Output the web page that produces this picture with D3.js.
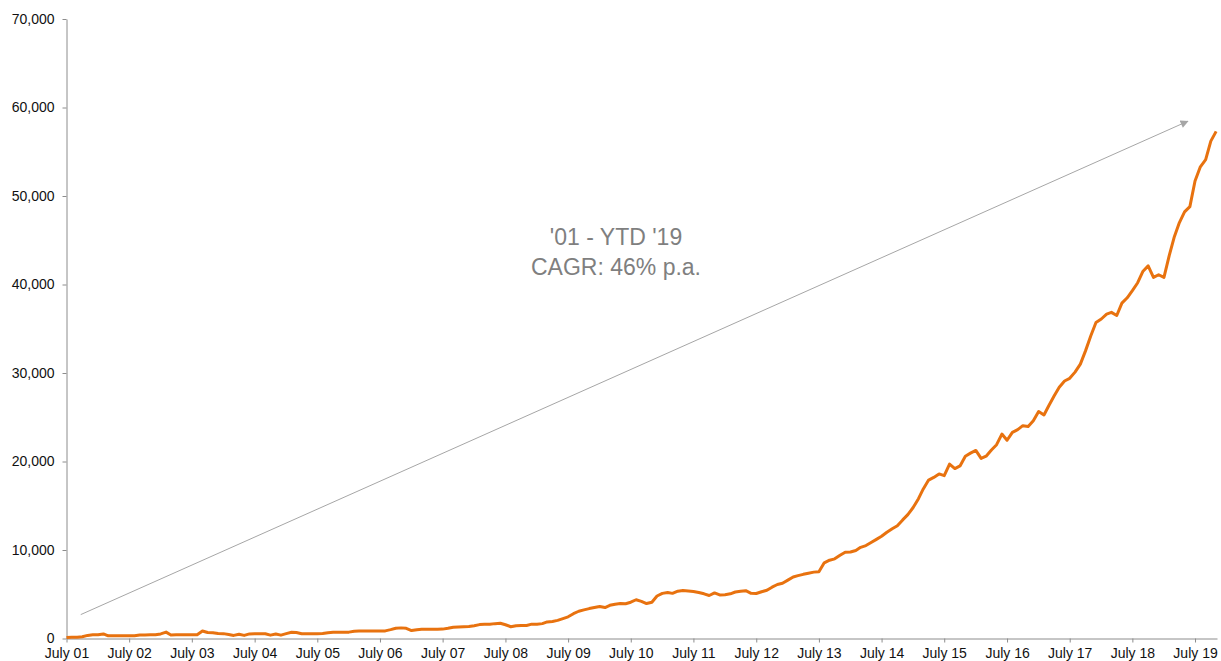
<!DOCTYPE html>
<html>
<head>
<meta charset="utf-8">
<script src="https://cdn.jsdelivr.net/npm/d3@7"></script>
<style>
  html, body { margin: 0; padding: 0; background: #fff; }
  svg { display: block; font-family: "Liberation Sans", Arial, Helvetica, sans-serif; }
</style>
</head>
<body>
<svg id="chart" width="1221" height="661"></svg>
<script>
// --- data: monthly values, July 2001 .. Nov 2019 ---
const startMonth = new Date(2001, 6, 1);
const values = [
  // Jul 01 - Jun 02
  100, 150, 150, 200, 350, 420, 420, 520, 300, 300, 300, 300,
  // Jul 02 - Jun 03
  300, 320, 400, 400, 420, 430, 520, 720, 400, 420, 420, 420,
  // Jul 03 - Jun 04
  420, 430, 850, 680, 650, 560, 550, 450, 350, 480, 350, 520,
  // Jul 04 - Jun 05
  550, 550, 530, 380, 500, 380, 550, 700, 680, 530, 540, 550,
  // Jul 05 - Jun 06
  550, 560, 650, 700, 700, 700, 720, 830, 850, 850, 850, 850,
  // Jul 06 - Jun 07
  850, 860, 1000, 1150, 1200, 1150, 900, 1000, 1050, 1050, 1050, 1050,
  // Jul 07 - Jun 08
  1060, 1150, 1260, 1300, 1330, 1360, 1450, 1570, 1600, 1620, 1680, 1720,
  // Jul 08 - Jun 09
  1550, 1330, 1450, 1470, 1470, 1620, 1620, 1680, 1870, 1920, 2050, 2250,
  // Jul 09 - Jun 10
  2450, 2800, 3080, 3230, 3380, 3500, 3620, 3500, 3750, 3880, 3950, 3930,
  // Jul 10 - Jun 11
  4100, 4380, 4200, 3950, 4100, 4800, 5100, 5200, 5100, 5350, 5430, 5380,
  // Jul 11 - Jun 12
  5320, 5200, 5050, 4860, 5150, 4920, 4950, 5050, 5250, 5340, 5400, 5100,
  // Jul 12 - Jun 13
  5080, 5280, 5450, 5800, 6100, 6250, 6600, 6950, 7100, 7250, 7380, 7500,
  // Jul 13 - Jun 14
  7550, 8550, 8850, 9000, 9400, 9750, 9780, 9950, 10300, 10500, 10850, 11200,
  // Jul 14 - Jun 15
  11550, 12000, 12400, 12750, 13400, 14000, 14800, 15800, 16900, 17900, 18200, 18600,
  // Jul 15 - Jun 16
  18400, 19700, 19200, 19500, 20600, 20950, 21250, 20350, 20600, 21300, 21900, 23100,
  // Jul 16 - Jun 17
  22400, 23300, 23600, 24050, 23950, 24600, 25650, 25250, 26300, 27400, 28400, 29100,
  // Jul 17 - Jun 18
  29400, 30100, 31000, 32500, 34200, 35700, 36100, 36650, 36850, 36500, 37900, 38500,
  // Jul 18 - Jun 19
  39300, 40200, 41500, 42100, 40800, 41100, 40800, 43300, 45300, 47000, 48200, 48800,
  // Jul 19 - Nov 19
  51700, 53300, 54100, 56200, 57300
];

const tickYears = [2001, 2002, 2003, 2004, 2005, 2006, 2007, 2008, 2009, 2010,
                   2011, 2012, 2013, 2014, 2015, 2016, 2017, 2018, 2019];
const tickLabels = ["July 01", "July 02", "July 03", "July 04", "July 05", "July 06", "July 07",
                    "July 08", "July 09", "July 10", "July 11", "July 12", "July 13", "July 14",
                    "July 15", "July 16", "July 17", "July 18", "July 19"];
const yTicks = [0, 10000, 20000, 30000, 40000, 50000, 60000, 70000];

// arrow annotation: start / end as [date, value]
const arrowFrom = [new Date(2001, 8, 22), 2700];
const arrowTo = [new Date(2019, 4, 20), 58450];
const noteLines = ["'01 - YTD '19", "CAGR: 46% p.a."];

const data = values.map((v, i) => ({ date: d3.timeMonth.offset(startMonth, i), value: v }));

const svg = d3.select("#chart");

const x = d3.scaleTime()
    .domain([startMonth, new Date(2019, 10, 6)])
    .range([66.5, 1217]);

const y = d3.scaleLinear()
    .domain([0, 70000])
    .range([638.5, 19]);

// arrow marker
svg.append("defs").append("marker")
    .attr("id", "arrowhead")
    .attr("viewBox", "0 0 10 10")
    .attr("refX", 9)
    .attr("refY", 5)
    .attr("markerWidth", 9)
    .attr("markerHeight", 8)
    .attr("markerUnits", "userSpaceOnUse")
    .attr("orient", "auto")
    .append("path")
    .attr("d", "M0,0 L10,5 L0,10 Z")
    .attr("fill", "#a6a6a6");

// y axis
const yAxis = svg.append("g")
    .attr("transform", "translate(66.5,0)")
    .call(d3.axisLeft(y).tickValues(yTicks).tickFormat(d3.format(",")).tickSize(4).tickSizeOuter(0));

// x axis
const xAxis = svg.append("g")
    .attr("transform", "translate(0,638.5)")
    .call(d3.axisBottom(x)
        .tickValues(tickYears.map(yr => new Date(yr, 6, 1)))
        .tickFormat((d, i) => tickLabels[i])
        .tickSize(4)
        .tickSizeOuter(0));

[yAxis, xAxis].forEach(g => {
    g.select(".domain").attr("stroke", "#8c8c8c");
    g.selectAll(".tick line").attr("stroke", "#8c8c8c");
    g.selectAll(".tick text")
        .attr("fill", "#111")
        .style("font-size", "14px")
        .style("font-family", "'Liberation Sans', Arial, Helvetica, sans-serif");
});
yAxis.selectAll(".tick text").attr("x", -12);
xAxis.selectAll(".tick text").attr("y", 10);

// arrow
svg.append("line")
    .attr("x1", x(arrowFrom[0]))
    .attr("y1", y(arrowFrom[1]))
    .attr("x2", x(arrowTo[0]))
    .attr("y2", y(arrowTo[1]))
    .attr("stroke", "#a6a6a6")
    .attr("stroke-width", 1)
    .attr("marker-end", "url(#arrowhead)");

// annotation text
svg.append("text")
    .attr("x", 616)
    .attr("y", 245)
    .attr("text-anchor", "middle")
    .attr("fill", "#7f7f7f")
    .style("font-size", "23px")
    .selectAll("tspan")
    .data(noteLines)
    .enter()
    .append("tspan")
    .attr("x", 616)
    .attr("dy", (d, i) => i === 0 ? 0 : 30)
    .text(d => d);

// series line
const line = d3.line()
    .x(d => x(d.date))
    .y(d => y(d.value));

svg.append("path")
    .datum(data)
    .attr("fill", "none")
    .attr("stroke", "#e8720f")
    .attr("stroke-width", 3)
    .attr("stroke-linejoin", "round")
    .attr("d", line);
</script>
</body>
</html>
